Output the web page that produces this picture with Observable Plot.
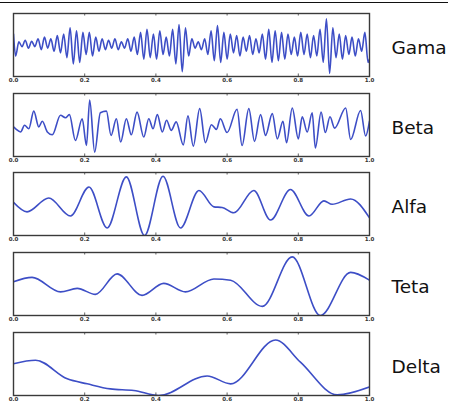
<!DOCTYPE html>
<html>
<head>
<meta charset="utf-8">
<script src="https://cdn.jsdelivr.net/npm/d3@7"></script>
<script src="https://cdn.jsdelivr.net/npm/@observablehq/plot@0.6"></script>
<style>
  html, body { margin: 0; padding: 0; background: #fff; }
  #page { position: relative; width: 450px; height: 401px; overflow: hidden; background: #fff; }
  #rule { position: absolute; left: 0; top: 2px; width: 448px; border-top: 1.5px solid #111; }
  .panel { position: absolute; left: 0; }
</style>
</head>
<body>
<div id="page"><div id="rule"></div></div>
<script>
// Band names, shown to the right of each trace
const bands = ["Gama", "Beta", "Alfa", "Teta", "Delta"];
const xTicks = [0, 0.2, 0.4, 0.6, 0.8, 1.0];

// Turning points of each trace: time (s) and normalised amplitude
const gamaT = [0.000,0.006,0.015,0.024,0.033,0.042,0.051,0.060,0.069,0.078,0.087,0.096,0.105,0.114,0.123,0.132,0.141,0.150,0.159,0.168,0.177,0.186,0.195,0.204,0.213,0.222,0.231,0.240,0.249,0.258,0.267,0.276,0.285,0.294,0.303,0.312,0.321,0.330,0.339,0.348,0.357,0.366,0.375,0.384,0.393,0.402,0.411,0.420,0.429,0.438,0.447,0.456,0.465,0.474,0.483,0.492,0.501,0.510,0.519,0.528,0.537,0.546,0.555,0.564,0.573,0.582,0.591,0.600,0.609,0.618,0.627,0.636,0.645,0.654,0.663,0.672,0.681,0.690,0.699,0.708,0.717,0.726,0.735,0.744,0.753,0.762,0.771,0.780,0.789,0.798,0.807,0.816,0.825,0.834,0.843,0.852,0.861,0.870,0.879,0.888,0.897,0.906,0.915,0.924,0.933,0.942,0.951,0.960,0.969,0.978,0.987,0.996,1.000];
const gamaV = [0.35,-0.35,0.10,-0.05,0.15,-0.10,0.12,-0.05,0.20,-0.15,0.25,-0.10,0.20,-0.20,0.30,-0.25,0.35,-0.40,0.55,-0.60,0.45,-0.55,0.40,-0.30,0.40,-0.35,0.25,-0.20,0.20,-0.15,0.15,-0.10,0.20,-0.15,0.10,-0.10,0.20,-0.20,0.25,-0.30,0.40,-0.45,0.50,-0.40,0.35,-0.45,0.45,-0.30,0.25,-0.35,0.50,-0.60,0.65,-0.85,0.55,-0.35,0.20,-0.10,0.10,-0.15,0.20,-0.30,0.45,-0.50,0.62,-0.55,0.40,-0.45,0.35,-0.25,0.30,-0.35,0.25,-0.20,0.30,-0.30,0.20,-0.25,0.35,-0.45,0.50,-0.55,0.45,-0.50,0.40,-0.45,0.35,-0.30,0.25,-0.35,0.40,-0.30,0.35,-0.40,0.30,-0.35,0.50,-0.55,0.83,-0.90,0.55,-0.40,0.35,-0.45,0.30,-0.30,0.25,-0.35,0.20,-0.20,0.40,-0.55,-0.45];

const betaT = [0.000,0.006,0.020,0.031,0.043,0.057,0.071,0.081,0.095,0.109,0.132,0.146,0.157,0.174,0.193,0.205,0.214,0.228,0.244,0.261,0.274,0.289,0.301,0.317,0.331,0.347,0.366,0.380,0.392,0.404,0.418,0.430,0.443,0.457,0.477,0.490,0.505,0.523,0.539,0.556,0.570,0.581,0.600,0.628,0.642,0.661,0.677,0.694,0.708,0.727,0.741,0.757,0.767,0.783,0.800,0.811,0.825,0.839,0.848,0.864,0.876,0.889,0.902,0.933,0.947,0.975,0.989,1.000];
const betaV = [-0.06,-0.12,-0.22,-0.01,-0.12,0.44,-0.06,0.12,-0.22,-0.31,0.31,0.23,0.33,-0.49,0.20,-0.65,0.79,-0.86,0.39,0.44,-0.33,0.20,-0.54,0.20,-0.31,0.41,-0.38,0.20,-0.12,0.33,-0.22,0.15,-0.17,0.10,-0.63,0.29,-0.67,0.52,-0.56,0.01,-0.14,0.20,-0.24,0.50,-0.65,0.52,-0.52,0.33,-0.33,0.36,-0.44,0.12,-0.56,0.54,-0.44,0.26,-0.22,0.39,-0.73,0.41,-0.24,0.26,-0.10,0.54,-0.46,0.46,-0.35,0.12];

const alfaT = [0.000,0.038,0.099,0.160,0.212,0.263,0.317,0.368,0.420,0.469,0.521,0.563,0.586,0.619,0.675,0.722,0.778,0.830,0.872,0.895,0.947,1.000];
const alfaV = [0.05,-0.25,0.19,-0.38,0.54,-0.76,0.86,-1.00,0.88,-0.76,0.43,-0.09,-0.11,-0.28,0.43,-0.51,0.46,-0.38,0.10,-0.01,0.16,-0.44];

const tetaT = [0.000,0.052,0.132,0.179,0.230,0.291,0.361,0.422,0.483,0.563,0.610,0.699,0.783,0.862,0.947,1.000];
const tetaV = [0.07,0.21,-0.25,-0.14,-0.33,0.32,-0.36,0.02,-0.25,0.16,0.12,-0.71,0.86,-1.00,0.37,0.12];

const deltaT = [0.000,0.062,0.151,0.207,0.272,0.338,0.408,0.544,0.610,0.736,0.806,0.909,1.000];
const deltaV = [0.01,0.12,-0.47,-0.63,-0.79,-0.84,-1.00,-0.38,-0.63,0.76,0.06,-0.98,-0.73];

const series = [[gamaT, gamaV], [betaT, betaV], [alfaT, alfaV], [tetaT, tetaV], [deltaT, deltaV]];
const panelTops = [13, 93, 172, 252, 332];

const lineColor = "#3d4ec6";
const frameColor = "#3a3a3a";
const page = document.getElementById("page");

series.forEach(([ts, vs], i) => {
  const pts = ts.map((t, j) => ({t, v: vs[j]}));
  const chart = Plot.plot({
    width: 450,
    height: 63 + 13 + 12,
    marginLeft: 13,
    marginRight: 81,
    marginTop: 13,
    marginBottom: 12,
    style: {background: "transparent", fontFamily: "DejaVu Sans, sans-serif", overflow: "visible"},
    x: {domain: [0, 1], label: null},
    y: {domain: [-1, 1], axis: null},
    marks: [
      Plot.line(pts, {x: "t", y: "v", curve: "monotone-x", stroke: lineColor, strokeWidth: 1.6, clip: true}),
      Plot.frame({stroke: frameColor, strokeWidth: 1.4}),
      Plot.ruleX(xTicks, {y1: -1, y2: -0.92, stroke: frameColor, strokeWidth: 0.8}),
      Plot.ruleX(xTicks, {y1: 1, y2: 0.92, stroke: frameColor, strokeWidth: 0.8}),
      Plot.axisX(xTicks, {label: null, tickSize: 0, tickPadding: 2, fontSize: 5.5, fontWeight: "bold", fill: "#333", tickFormat: d => d.toFixed(1)}),
      Plot.text([bands[i]], {frameAnchor: "right", dx: 22, dy: 3, textAnchor: "start", fontSize: 18.5, fill: "#111", fontFamily: "DejaVu Sans, sans-serif"})
    ]
  });
  chart.classList.add("panel");
  chart.style.top = (panelTops[i] - 13) + "px";
  page.appendChild(chart);
});
</script>
</body>
</html>
